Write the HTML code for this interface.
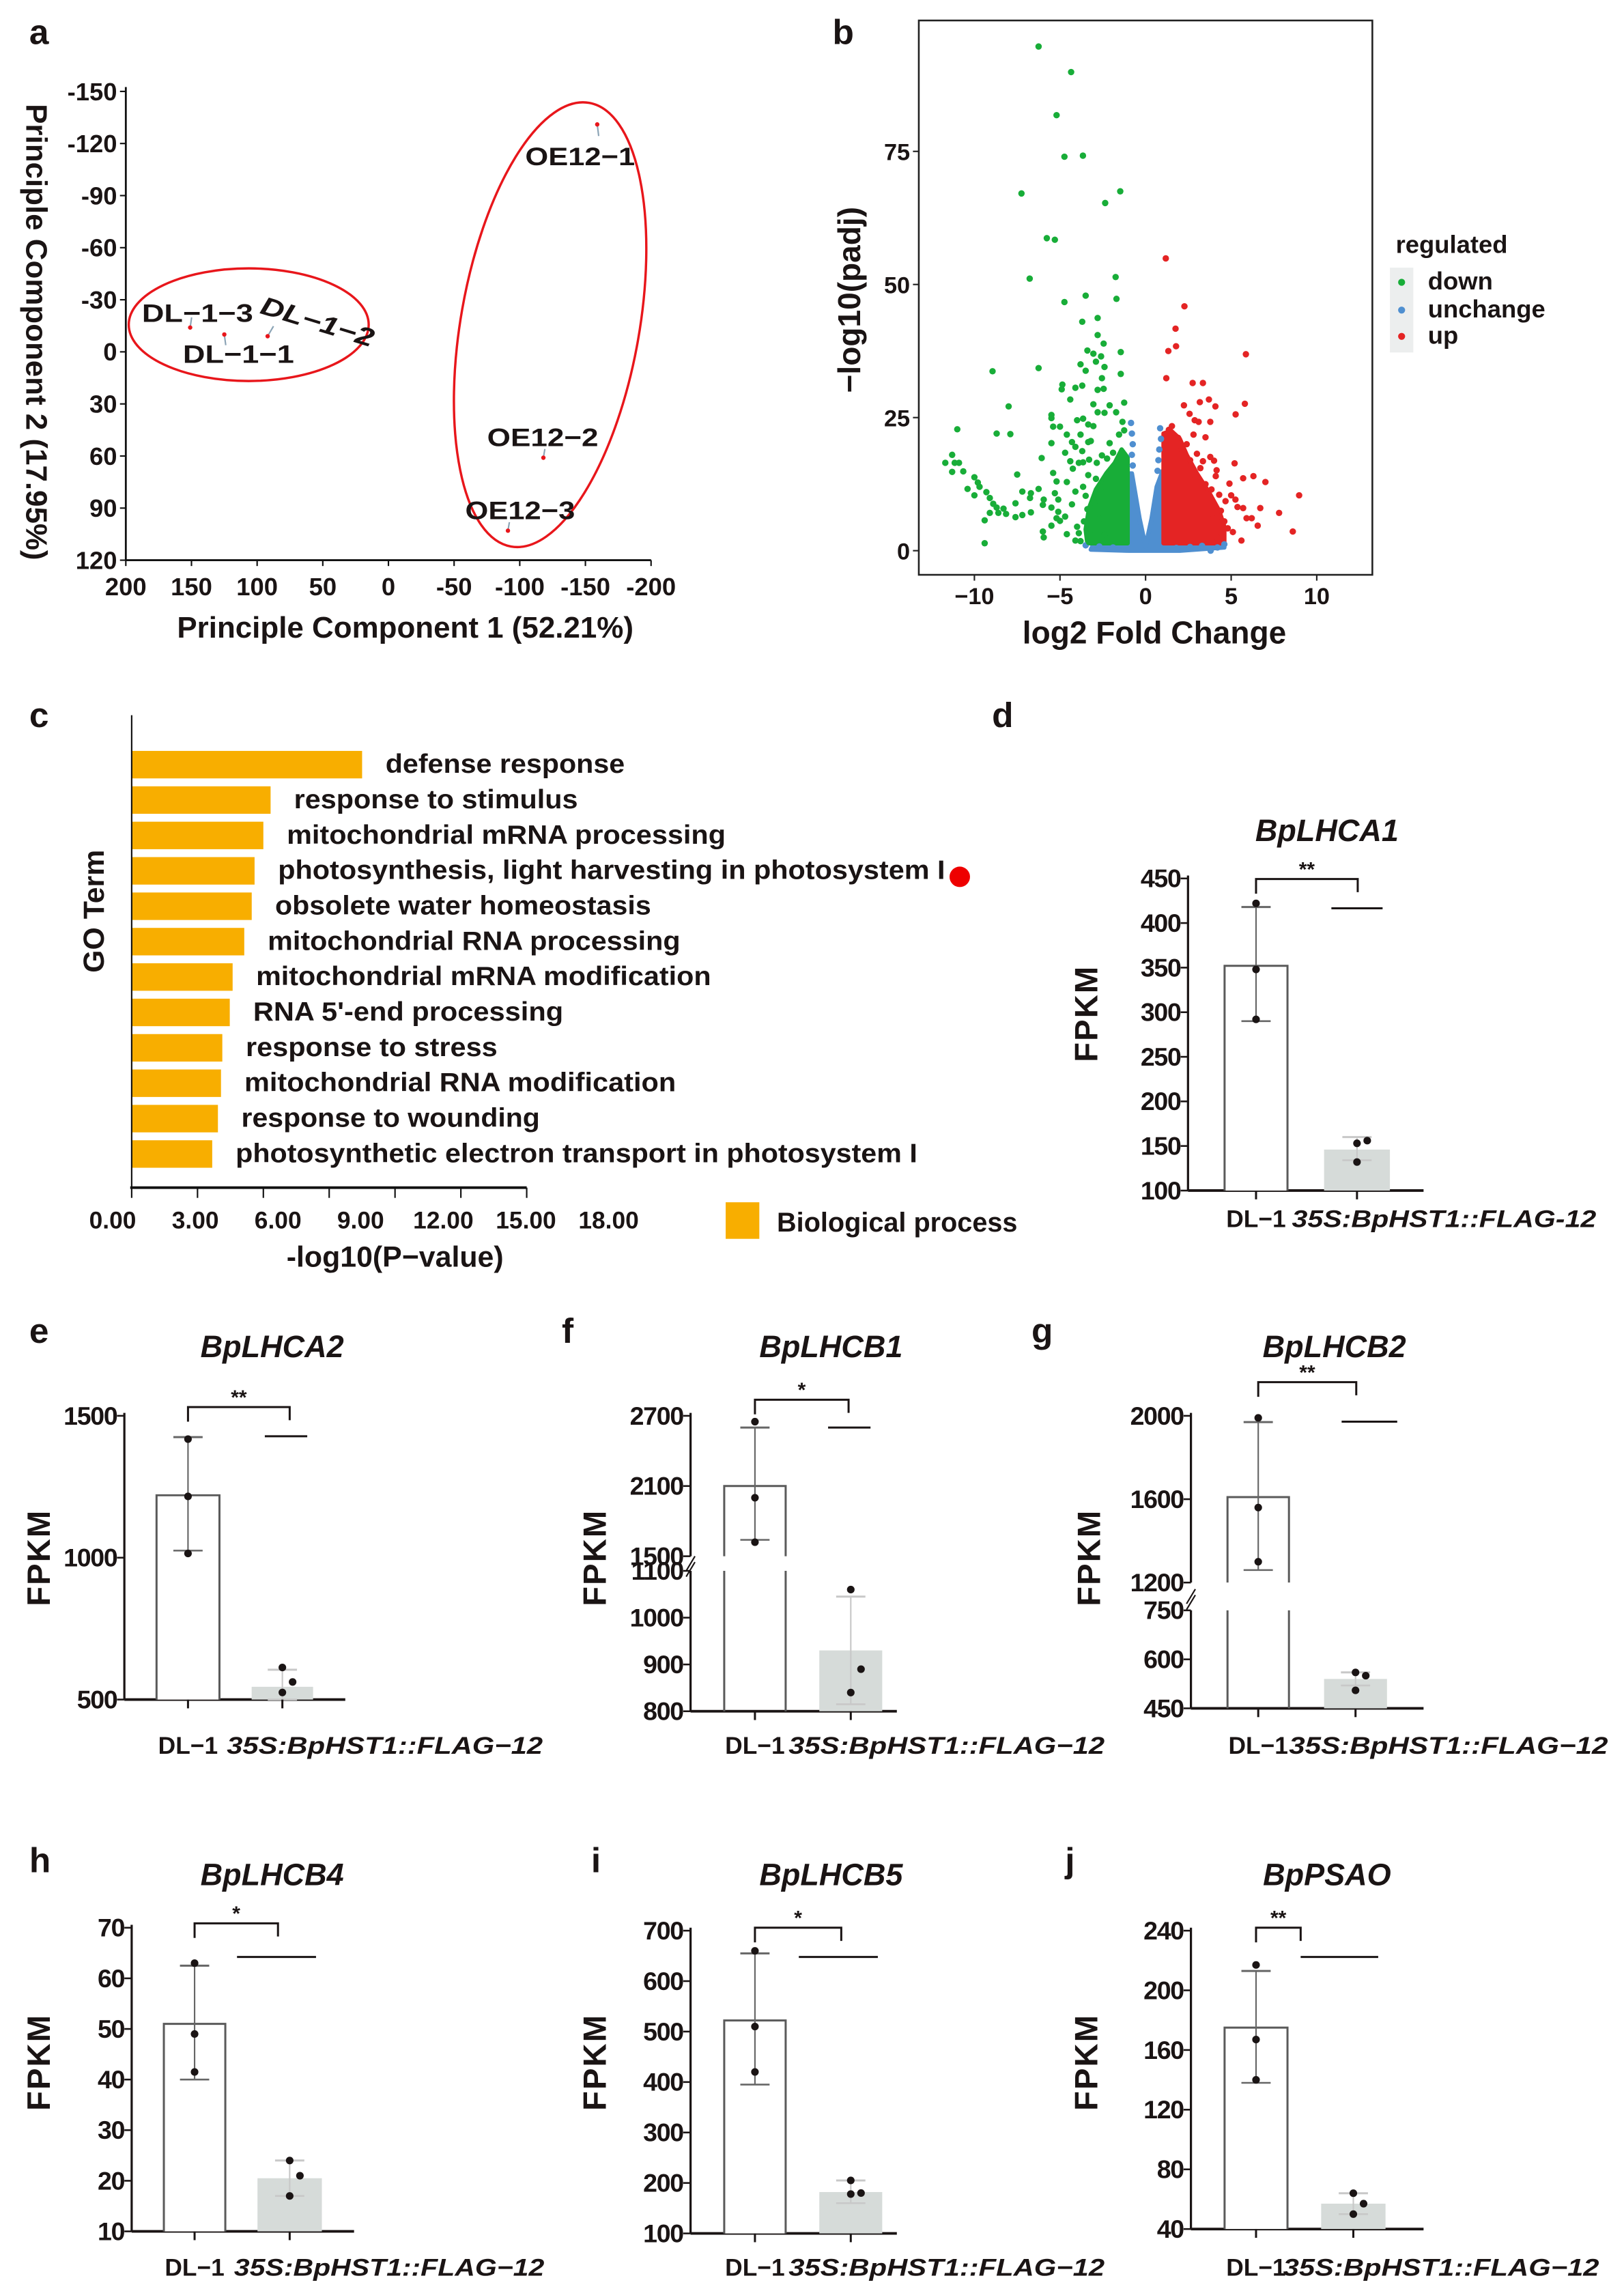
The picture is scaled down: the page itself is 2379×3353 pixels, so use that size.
<!DOCTYPE html>
<html><head><meta charset="utf-8">
<style>
html,body{margin:0;padding:0;background:#fff;}
svg{display:block;}
text{font-family:"Liberation Sans",Arial,sans-serif;font-weight:bold;fill:#1a1414;}
</style></head>
<body>
<svg id="fig" xmlns="http://www.w3.org/2000/svg" width="2379" height="3353" viewBox="0 0 1110 1565" preserveAspectRatio="none">
<rect x="0" y="0" width="1110" height="1565" fill="#fff"/>
</svg>
<script>
// ---------- Panel a: PCA ----------
const pcaNames = ["DL−1−3","DL−1−1","DL−1−2","OE12−1","OE12−2","OE12−3"];
const pc1 = [151,125,92,-159,-118,-91];
const pc2 = [-14,-10,-9,-131,61,103];
const pcaXTicks = [200,150,100,50,0,-50,-100,-150,-200];
const pcaYTicks = [-150,-120,-90,-60,-30,0,30,60,90,120];

// ---------- Panel b: volcano ----------
const volXTicks = [-10,-5,0,5,10];
const volYTicks = [0,25,50,75];
const downPts = [[-6.25,94.7],[-4.35,89.9],[-5.2,81.8],[-4.74,74.0],[-3.66,74.2],[-7.25,67.1],[-1.48,67.5],[-2.36,65.3],[-5.77,58.7],[-5.3,58.4],[-6.77,51.1],[-1.75,51.4],[-4.74,46.7],[-3.5,47.9],[-1.7,47.3],[-3.7,43.0],[-2.8,43.7],[-2.8,40.5],[-2.45,38.9],[-3.4,37.6],[-1.45,37.3],[-3.05,37.0],[-2.6,36.5],[-2.9,35.5],[-3.8,35.0],[-2.4,34.5],[-3.5,33.8],[-8.94,33.7],[-6.25,34.3],[-1.45,33.2],[-2.55,32.4],[-4.86,31.2],[-3.7,31.0],[-2.8,30.2],[-4.9,30.3],[-4.1,30.6],[-2.45,30.4],[-4.4,28.4],[-8.0,27.1],[-11.0,22.8],[-8.7,22.0],[-7.9,21.9],[-11.3,18],[-11.7,16.5],[-11.15,16.5],[-10.9,16.5],[-11.3,14.8],[-10.65,14.9],[-10.0,13.8],[-9.8,12.8],[-10.4,11.6],[-9.7,12.0],[-10.0,10.4],[-9.3,11.0],[-9.1,9.9],[-8.9,8.8],[-8.7,8.1],[-8.3,7.9],[-8.15,6.9],[-8.6,7.1],[-9.1,7.1],[-9.4,5.7],[-9.4,1.4],[-7.5,14.3],[-7.2,11.1],[-6.7,10.8],[-7.6,8.9],[-7.2,6.7],[-6.7,7.2],[-7.6,6.3],[-6.75,9.9],[-6.25,11.6],[-5.95,9.6],[-6.0,8.6],[-6.0,3.6],[-5.95,2.5],[-6.07,17.4],[-5.5,20.2],[-5.4,14.6],[-5.2,13.0],[-4.6,12.9],[-5.3,10.8],[-5.1,9.6],[-5.5,8.1],[-5.1,7.3],[-4.7,6.4],[-5.0,5.6],[-4.6,3.1],[-4.1,1.9],[-3.9,3.3],[-5.5,4.7],[-5.2,6.1],[-5.5,25.5],[-5.5,24.9],[-5.4,23.3],[-5.0,23.3],[-4.6,21.8],[-4.3,20.4],[-4.7,18.4],[-4.4,16.8],[-4.1,19.5],[-3.8,21.8],[-4.0,24.5],[-3.65,24.8],[-3.35,23.7],[-3.05,23.4],[-3.2,20.6],[-3.7,18.7],[-3.65,16.6],[-3.3,17.1],[-2.85,16.5],[-2.55,17.9],[-2.25,17.3],[-1.9,18.4],[-2.1,20.2],[-1.55,21.8],[-1.25,22.6],[-1.35,24.2],[-2.1,27.3],[-2.4,25.9],[-1.72,26.0],[-1.25,27.8],[-2.8,26.0],[-3.05,27.5],[-3.35,20.4],[-3.9,16.5],[-4.25,15.4],[-3.35,14.2],[-3.65,12.0],[-4.1,11.1],[-3.5,10.3],[-4.3,8.7],[-3.4,7.8],[-2.9,13.5],[-2.6,12],[-3.0,9],[-2.7,6],[-3.2,4],[-2.4,3],[-3.6,5.5],[-4.0,4.5],[-3.8,1.8],[-3.3,1.6]];
const downCore = [[-1.05,1.4],[-1.05,17.5],[-1.4,19],[-1.8,16.5],[-2.3,14.5],[-2.9,11.5],[-3.3,8],[-3.5,4],[-3.4,1.4]];
const unchPts = [[-0.85,24],[-0.8,22],[-0.75,20],[-0.8,18],[-0.75,16],[0.85,23],[0.9,21],[0.8,19],[0.75,17],[0.7,15],[-3.5,1.0],[3.8,0],[4.6,1.2],[-2.7,0.8],[2.6,0.7],[-1.9,0.6],[1.8,0.5],[3.3,0.9],[4.2,0.6]];
const unchCore = [[-3.2,0.2],[-3.0,1.5],[-1.0,1.5],[-1.0,14.5],[-0.8,14.5],[-0.35,6],[0,0.8],[0.35,6],[0.65,12],[1.0,15],[1.0,1.5],[4.5,1.5],[4.6,0.6],[2,0],[-1,0]];
const upPts = [[1.18,54.9],[2.27,45.9],[1.75,41.7],[1.78,38.4],[1.33,37.5],[5.86,36.9],[1.21,32.4],[2.75,31.5],[3.35,31.5],[3.7,28.4],[3.17,27.9],[5.8,27.6],[2.24,27.3],[4.08,27.1],[2.57,25.7],[2.87,24.5],[3.1,24.2],[3.78,24.2],[5.26,25.6],[1.36,22.7],[1.54,23.4],[1.9,21.2],[2.8,21.8],[3.5,21.3],[3.0,18.2],[3.35,16.8],[3.78,17.6],[4.0,16.9],[5.2,16.4],[4.15,15.1],[5.7,13.6],[6.3,14.0],[7.0,12.9],[4.9,12.6],[3.85,11.5],[5.25,9.6],[5.37,8.2],[5.7,8.0],[6.7,8.0],[7.8,7.1],[8.97,10.4],[8.6,3.6],[5.6,1.9],[6.55,4.7],[6.2,6.1],[5.9,6.1],[5.0,10.4],[4.1,14.0],[4.67,9.3],[3.9,6.9],[2.4,20],[2.1,19],[2.6,17],[3.2,15.5],[2.9,14],[3.5,12.5],[4.3,10.5],[4.4,7.5],[4.6,5.5],[4.8,4.2],[5.1,3.5],[4.2,2.4]];
const upCore = [[1.05,1.4],[1.05,22],[1.5,22.5],[2.0,21],[2.4,18],[3.0,14.5],[3.7,11],[4.3,7.5],[4.6,4.5],[4.6,1.4]];

// ---------- Panel c: GO ----------
const goTerms = ["defense response","response to stimulus","mitochondrial mRNA processing","photosynthesis, light harvesting in photosystem I","obsolete water homeostasis","mitochondrial RNA processing","mitochondrial mRNA modification","RNA 5'-end processing","response to stress","mitochondrial RNA modification","response to wounding","photosynthetic electron transport in photosystem I"];
const goValues = [10.5,6.33,6.0,5.6,5.47,5.13,4.6,4.47,4.13,4.07,3.93,3.67];
const goTicks = [0,3,6,9,12,15,18];
const goTickLabels = ["0.00","3.00","6.00","9.00","12.00","15.00","18.00"];

// ---------- Bar panels d-j ----------
const groups = ["DL−1","35S:BpHST1::FLAG−12"];
const dMeans=[352,146], dErrLo=[290,134], dErrHi=[418,160], dPts=[[422,348,292],[153,156,132]], dTicks=[100,150,200,250,300,350,400,450];
const eMeans=[1220,545], eErrLo=[1025,500], eErrHi=[1425,605], ePts=[[1418,1216,1015],[613,562,525]], eTicks=[500,1000,1500];
const fMeans=[2100,930], fErrLo=[1640,815], fErrHi=[2600,1045], fPts=[[2650,2000,1620],[1060,890,840]], fTicks=[800,900,1000,1100,1500,2100,2700];
const gMeans=[1610,540], gErrLo=[1260,520], gErrHi=[1970,560], gPts=[[1990,1560,1300],[560,550,505]], gTicks=[450,600,750,1200,1600,2000];
const hMeans=[51,20.5], hErrLo=[40,17], hErrHi=[62.5,24], hPts=[[63,49,41.5],[24,21,17]], hTicks=[10,20,30,40,50,60,70];
const iMeans=[522,182], iErrLo=[395,160], iErrHi=[655,205], iPts=[[660,510,420],[205,180,178]], iTicks=[100,200,300,400,500,600,700];
const jMeans=[175,57], jErrLo=[138,50], jErrHi=[213,64], jPts=[[217,167,140],[64,57,50]], jTicks=[40,80,120,160,200,240];

const NS="http://www.w3.org/2000/svg";
const svg=document.getElementById('fig');
function el(tag,attrs,parent,txt){const e=document.createElementNS(NS,tag);for(const k in attrs)e.setAttribute(k,attrs[k]);if(txt!==undefined)e.textContent=txt;(parent||svg).appendChild(e);return e;}
function grp(name){const g=el('g',{});return g;}
function lbl(parent,name,x,y,t,size,extra){const a={x:x,y:y,'font-size':size};Object.assign(a,extra||{});const e=el('text',a,parent,t);return e;}

[["a",20,30],["b",569,30],["c",20,497],["d",678,497],["e",20,918],["f",384,918],["g",705,918],["h",20,1280],["i",404,1280],["j",728,1280]].forEach(p=>{
  lbl(svg,'panel-label-'+p[0],p[1],p[2],p[0],24);
});

// ===== Panel a =====
(function(){
  const g=grp('pca-panel');
  const x0=86,x1=445,yTop=62.5,yBot=383;
  const sx=v=>x0+(200-v)*(x1-x0)/400;
  const sy=v=>yTop+(v+150)*(yBot-yTop)/270;
  el('line',{x1:x0,y1:yTop-3,x2:x0,y2:yBot,stroke:'#111','stroke-width':1.3},g);
  el('line',{x1:x0,y1:yBot,x2:x1,y2:yBot,stroke:'#111','stroke-width':1.3},g);
  pcaXTicks.forEach(v=>{el('line',{x1:sx(v),y1:yBot,x2:sx(v),y2:yBot+4,stroke:'#111','stroke-width':1},g);
    lbl(g,'pca-x-tick',sx(v),yBot+24,String(v),17,{'text-anchor':'middle'});});
  pcaYTicks.forEach(v=>{el('line',{x1:x0-4,y1:sy(v),x2:x0,y2:sy(v),stroke:'#111','stroke-width':1},g);
    lbl(g,'pca-y-tick',x0-6,sy(v)+6,String(v),17,{'text-anchor':'end'});});
  lbl(g,'pca-x-title',277,436,'Principle Component 1 (52.21%)',20.5,{'text-anchor':'middle'});
  lbl(g,'pca-y-title',0,0,'Principle Component 2 (17.95%)',20.5,{'text-anchor':'middle',transform:'translate(18,227) rotate(90)'});
  el('ellipse',{cx:170,cy:222,rx:82,ry:38.5,fill:'none',stroke:'#e8161b','stroke-width':1.6},g);
  el('ellipse',{cx:376,cy:222,rx:61,ry:154,fill:'none',stroke:'#e8161b','stroke-width':1.6,transform:'rotate(10 376 222)'},g);
  const lay=[{tx:97,ty:220,ly:217,w:76},{tx:125,ty:248,ly:236,w:76},{tx:177,ty:214,ly:223,rot:17,it:true,w:80},{tx:359,ty:113,ly:93,w:75},{tx:333,ty:305,ly:307,w:76},{tx:318,ty:355,ly:357,w:75}];
  pcaNames.forEach((n,i)=>{
    const px=sx(pc1[i]),py=sy(pc2[i]);
    el('line',{x1:px,y1:py,x2:px+(lay[i].rot?4:1),y2:lay[i].ly,stroke:'#8aa3b5','stroke-width':1},g);
    const c=el('circle',{cx:px,cy:py,r:1.5,fill:'#e8161b'},g);
    
    
    const extra={textLength:lay[i].w,lengthAdjust:'spacingAndGlyphs'};
    if(lay[i].rot){extra.transform='rotate('+lay[i].rot+' '+lay[i].tx+' '+lay[i].ty+')';extra['font-style']='italic';}
    lbl(g,'pca-label',lay[i].tx,lay[i].ty,n,17.5,extra);
  });
})();

// ===== Panel b =====
(function(){
  const g=grp('volcano-panel');
  const fx0=628,fx1=938,fy0=14,fy1=393;
  const sx=v=>783+v*11.7;
  const sy=v=>376.5-v*3.64;
  el('rect',{x:fx0,y:fy0,width:fx1-fx0,height:fy1-fy0,fill:'#fff',stroke:'#222','stroke-width':1.2},g);
  volXTicks.forEach(v=>{el('line',{x1:sx(v),y1:fy1,x2:sx(v),y2:fy1+4,stroke:'#222','stroke-width':1},g);
    lbl(g,'volcano-x-tick',sx(v),fy1+20,v<0?'−'+Math.abs(v):String(v),16,{'text-anchor':'middle'});});
  volYTicks.forEach(v=>{el('line',{x1:fx0-4,y1:sy(v),x2:fx0,y2:sy(v),stroke:'#222','stroke-width':1},g);
    lbl(g,'volcano-y-tick',fx0-6,sy(v)+6,String(v),16,{'text-anchor':'end'});});
  const poly=(pts,col,name)=>{const p=el('polygon',{points:pts.map(q=>sx(q[0])+','+sy(q[1])).join(' '),fill:col,stroke:col,'stroke-width':3,'stroke-linejoin':'round'},g);};
  poly(unchCore,'#4f8fd0','unchange-core');
  poly(downCore,'#18ad38','down-core');
  poly(upCore,'#e42424','up-core');
  const dots=(pts,col,name)=>pts.forEach(q=>{const c=el('circle',{cx:sx(q[0]),cy:sy(q[1]),r:2.2,fill:col},g);});
  dots(unchPts,'#4f8fd0','unchange-point');
  dots(downPts,'#18ad38','down-point');
  dots(upPts,'#e42424','up-point');
  lbl(g,'volcano-x-title',789,440,'log2 Fold Change',21.5,{'text-anchor':'middle'});
  lbl(g,'volcano-y-title',0,0,'−log10(padj)',21.5,{'text-anchor':'middle',transform:'translate(588,205) rotate(-90)'});
  const lg=grp('volcano-legend');
  lbl(lg,'legend-title',954,173,'regulated',17);
  el('rect',{x:950,y:183,width:16,height:58,fill:'#eceeee'},lg);
  [['down','#18ad38',198],['unchange','#4f8fd0',217],['up','#e42424',235]].forEach(r=>{
    el('circle',{cx:958,cy:r[2]-5,r:2.4,fill:r[1]},lg);
    lbl(lg,'legend-entry-'+r[0],976,r[2],r[0],17);
  });
})();

// ===== Panel c =====
const goLabelEnds = [427,395,496,646,445,465,486,385,340,462,369,627];
(function(){
  const g=grp('go-panel');
  const ax=90,yb=812,yTop=489,s=15;
  const sx=v=>ax+v*s;
  goValues.forEach((v,i)=>{
    const y=513.4+i*24.2;
    const r=el('rect',{x:ax,y:y,width:sx(v)-ax,height:18.8,fill:'#f8ae00'},g);
    
    
    const x=sx(v)+16;
    lbl(g,'go-term-label',x,y+15,goTerms[i],18,{textLength:goLabelEnds[i]-x,lengthAdjust:'spacingAndGlyphs'});
  });
  el('circle',{cx:656,cy:599.5,r:7,fill:'#ee0000'},g);
  el('line',{x1:ax,y1:yTop,x2:ax,y2:yb,stroke:'#111','stroke-width':1},g);
  el('line',{x1:ax-1,y1:yb,x2:sx(18),y2:yb,stroke:'#111','stroke-width':1.8},g);
  goTicks.forEach((v,i)=>{el('line',{x1:sx(v),y1:yb,x2:sx(v),y2:yb+7,stroke:'#111','stroke-width':1},g);
    lbl(g,'go-x-tick',77+i*56.5,840,goTickLabels[i],16.5,{'text-anchor':'middle'});});
  lbl(g,'go-x-title',270,866,'-log10(P−value)',20,{'text-anchor':'middle'});
  lbl(g,'go-y-title',0,0,'GO Term',20,{'text-anchor':'middle',transform:'translate(71,623) rotate(-90)'});
  el('rect',{x:496,y:822,width:23,height:25,fill:'#f8ae00'},g);
  lbl(g,'legend-entry-biological-process',531,842,'Biological process',18.5);
})();

// ===== Bar panels =====
function barPanel(id,title,means,lo,hi,pts,ticks,L){
  const g=grp('bar-panel-'+id);
  const segs=L.segs;
  const ymap=v=>{for(const s of segs){if(v>=s.v0&&v<=s.v1)return s.y0+(v-s.v0)*(s.y1-s.y0)/(s.v1-s.v0);}
    let best=segs[0];for(const s of segs){if(v>s.v1)best=s;}const s=best;return s.y0+(v-s.v0)*(s.y1-s.y0)/(s.v1-s.v0);};
  lbl(g,'chart-title',L.tx,L.ty,title,21,{'text-anchor':'middle','font-style':'italic'});
  segs.forEach((s,k)=>{
    el('line',{x1:L.ax,y1:s.y0,x2:L.ax,y2:s.y1-(k===segs.length-1?2:0),stroke:'#1a1414','stroke-width':1.5},g);
  });
  if(segs.length>1){const yb=(segs[0].y1+segs[1].y0)/2;
    el('line',{x1:L.ax-3,y1:yb+5,x2:L.ax+3,y2:yb-5,stroke:'#1a1414','stroke-width':1},g);
    el('line',{x1:L.ax-3,y1:yb+9,x2:L.ax+3,y2:yb-1,stroke:'#1a1414','stroke-width':1},g);}
  el('line',{x1:L.ax,y1:segs[0].y0,x2:L.axEnd,y2:segs[0].y0,stroke:'#1a1414','stroke-width':1.8},g);
  ticks.forEach(v=>{const y=ymap(v);el('line',{x1:L.ax-5,y1:y,x2:L.ax,y2:y,stroke:'#1a1414','stroke-width':1.2},g);
    lbl(g,'y-tick-label',L.ax-5,y+6,String(v),17.5,{'text-anchor':'end','letter-spacing':'-0.6'});});
  [0,1].forEach(b=>{
    const x0=L.bars[b][0],x1=L.bars[b][1],cx=(x0+x1)/2;
    segs.forEach(s=>{
      if(means[b]<=s.v0)return;
      const top=means[b]>=s.v1?s.y1:ymap(means[b]);
      const bot=s.y0;
      if(b===0){
        let d='M'+x0+','+bot+' L'+x0+','+top;
        d+=(means[b]<s.v1)?' L'+x1+','+top:' M'+x1+','+top;
        d+=' L'+x1+','+bot;
        const p=el('path',{d:d,fill:'#fff',stroke:'#5a5a5a','stroke-width':1.4},g);
        
      }else{
        const r=el('rect',{x:x0,y:top,width:x1-x0,height:bot-top,fill:'#d6dbd9'},g);
        
      }
    });
    const col=b===0?'#666':'#c8c8c8';
    el('line',{x1:cx,y1:ymap(lo[b]),x2:cx,y2:ymap(hi[b]),stroke:col,'stroke-width':1},g);
    el('line',{x1:cx-10,y1:ymap(lo[b]),x2:cx+10,y2:ymap(lo[b]),stroke:col,'stroke-width':1.2},g);
    el('line',{x1:cx-10,y1:ymap(hi[b]),x2:cx+10,y2:ymap(hi[b]),stroke:col,'stroke-width':1.4},g);
    pts[b].forEach((v,k)=>{el('circle',{cx:cx+(b===1&&k===1?7:0),cy:ymap(v),r:2.6,fill:'#1a1414'},g);});
    el('line',{x1:cx,y1:segs[0].y0,x2:cx,y2:segs[0].y0+6,stroke:'#1a1414','stroke-width':1.4},g);
  });
  const c0=(L.bars[0][0]+L.bars[0][1])/2,c1=L.brX2;
  el('path',{d:'M'+c0+','+(L.brY+10)+' L'+c0+','+L.brY+' L'+c1+','+L.brY+' L'+c1+','+(L.brY+9),fill:'none',stroke:'#1a1414','stroke-width':1.4},g);
  lbl(g,'significance-stars',(c0+c1)/2,L.brY-2,L.stars,14,{'text-anchor':'middle'});
  el('line',{x1:L.rl[0],y1:L.rl[2],x2:L.rl[1],y2:L.rl[2],stroke:'#1a1414','stroke-width':1.4},g);
  lbl(g,'x-label-control',(L.bars[0][0]+L.bars[0][1])/2,L.lby,groups[0],16.5,{'text-anchor':'middle'});
  lbl(g,'x-label-oe',L.lx2,L.lby,L.lab2||groups[1],16.5,{'text-anchor':'middle','font-style':'italic',textLength:L.lw,lengthAdjust:'spacingAndGlyphs'});
  lbl(g,'y-axis-title',0,0,'FPKM',22,{'text-anchor':'middle',transform:'translate('+L.fx+','+L.fy+') rotate(-90)','letter-spacing':'1'});
}
const lin=(v0,v1,y0,y1)=>[{v0:v0,v1:v1,y0:y0,y1:y1}];
barPanel('d','BpLHCA1',dMeans,dErrLo,dErrHi,dPts,dTicks,{ax:812,axEnd:973,segs:lin(100,450,814,600.6),bars:[[837,880],[905,950]],brY:601,brX2:928,stars:'**',rl:[910,945,621],lby:839,lx2:987,lw:208,lab2:'35S:BpHST1::FLAG-12',tx:907,ty:575,fx:750,fy:693});
barPanel('e','BpLHCA2',eMeans,eErrLo,eErrHi,ePts,eTicks,{ax:85,axEnd:236,segs:lin(500,1500,1162,968),bars:[[107,150],[172,214]],brY:962,brX2:198,stars:'**',rl:[181,210,982],lby:1199,lx2:263,lw:216,tx:186,ty:928,fx:34,fy:1065});
barPanel('f','BpLHCB1',fMeans,fErrLo,fErrHi,fPts,fTicks,{ax:472,axEnd:613,segs:[{v0:800,v1:1100,y0:1170,y1:1074},{v0:1500,v1:2700,y0:1064,y1:968}],bars:[[495,537],[560,603]],brY:957,brX2:580,stars:'*',rl:[566,595,976],lby:1199,lx2:647,lw:216,tx:568,ty:928,fx:414,fy:1065});
barPanel('g','BpLHCB2',gMeans,gErrLo,gErrHi,gPts,gTicks,{ax:814,axEnd:973,segs:[{v0:450,v1:750,y0:1168,y1:1101},{v0:1200,v1:2000,y0:1082,y1:968}],bars:[[839,881],[905,948]],brY:945,brX2:927,stars:'**',rl:[917,955,972],lby:1199,lx2:990,lw:218,tx:912,ty:928,fx:752,fy:1065});
barPanel('h','BpLHCB4',hMeans,hErrLo,hErrHi,hPts,hTicks,{ax:90,axEnd:242,segs:lin(10,70,1525.6,1318),bars:[[112,154],[176,220]],brY:1315,brX2:190,stars:'*',rl:[162,216,1338],lby:1556,lx2:266,lw:212,tx:186,ty:1289,fx:34,fy:1410});
barPanel('i','BpLHCB5',iMeans,iErrLo,iErrHi,iPts,iTicks,{ax:472,axEnd:613,segs:lin(100,700,1527,1320),bars:[[495,537],[560,603]],brY:1318,brX2:575,stars:'*',rl:[546,600,1338],lby:1556,lx2:647,lw:216,tx:568,ty:1289,fx:414,fy:1410});
barPanel('j','BpPSAO',jMeans,jErrLo,jErrHi,jPts,jTicks,{ax:814,axEnd:973,segs:lin(40,240,1524,1320),bars:[[837,880],[903,947]],brY:1318,brX2:889,stars:'**',rl:[889,942,1338],lby:1556,lx2:985,lw:216,tx:907,ty:1289,fx:750,fy:1410});
</script>
</body></html>
